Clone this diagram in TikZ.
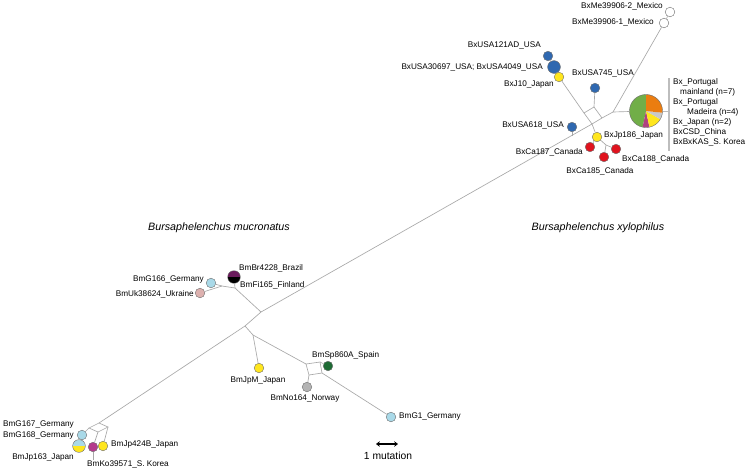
\documentclass[tikz,border=0pt]{standalone}
\usepackage{fontspec}
\setmainfont{Liberation Sans}
\usetikzlibrary{arrows.meta}
\definecolor{netgray}{HTML}{A8A8A8}
\definecolor{rimgray}{HTML}{6E6E6E}
\definecolor{barGray}{HTML}{BDBDBD}
\definecolor{lblueC}{HTML}{A9D9E8}
\definecolor{pinkC}{HTML}{DDB1AF}
\definecolor{purpC}{HTML}{6A1B5C}
\definecolor{blueC}{HTML}{2F68B0}
\definecolor{yellowC}{HTML}{FFE61E}
\definecolor{redC}{HTML}{E0131E}
\definecolor{dgreenC}{HTML}{1D6B34}
\definecolor{grayC}{HTML}{B4B4B4}
\definecolor{magC}{HTML}{B43A8C}
\definecolor{pieG}{HTML}{71AE48}
\definecolor{pieO}{HTML}{EB7D10}
\definecolor{pieGr}{HTML}{C9C9C9}
\definecolor{pieM}{HTML}{B0437F}
\begin{document}
\begin{tikzpicture}[x=1pt,y=-1pt,
  net/.style={draw=netgray, line width=0.65pt},
  nd/.style={circle, draw=rimgray, line width=0.4pt, inner sep=0pt, minimum size=9.6pt},
  bignd/.style={nd, minimum size=12.8pt},
  lbl/.style={font=\fontsize{8.2}{9}\selectfont, inner sep=0pt, text height=5.9pt, text depth=0pt},
  species/.style={font=\fontsize{10.7}{12}\selectfont\itshape, inner sep=0pt, text height=7.7pt, text depth=0pt}]
\fill[white] (0,0) rectangle (749,472);
\useasboundingbox (0,0) rectangle (749,472);

% ---------- circles (B. xylophilus) ----------
\node[nd, fill=white] (me2) at (670,12) {};
\node[nd, fill=white] (me1) at (664,23) {};
\node[nd, fill=blueC] (usa121) at (548,56) {};
\node[bignd, fill=blueC] (usa4049) at (554,67) {};
\node[nd, fill=yellowC] (j10) at (559,77) {};
\node[nd, fill=blueC] (usa745) at (595,88) {};
\node[nd, fill=blueC] (usa618) at (572,127) {};
\node[nd, fill=yellowC] (jp186) at (597,137) {};
\node[nd, fill=redC] (ca187) at (590,147) {};
\node[nd, fill=redC] (ca185) at (604,157) {};
\node[nd, fill=redC] (ca188) at (616,149) {};
\node[circle, inner sep=0pt, minimum size=33pt] (pie) at (646,111) {};
\fill[pieG] (pie.center) -- plot[domain=90:258, samples=40] ({646+16.5*cos(\x)},{111-16.5*sin(\x)}) -- cycle;
\fill[pieM] (pie.center) -- plot[domain=258:282, samples=8] ({646+16.5*cos(\x)},{111-16.5*sin(\x)}) -- cycle;
\fill[yellowC] (pie.center) -- plot[domain=282:330, samples=12] ({646+16.5*cos(\x)},{111-16.5*sin(\x)}) -- cycle;
\fill[pieGr] (pie.center) -- plot[domain=330:354, samples=8] ({646+16.5*cos(\x)},{111-16.5*sin(\x)}) -- cycle;
\fill[pieO] (pie.center) -- plot[domain=354:450, samples=24] ({646+16.5*cos(\x)},{111-16.5*sin(\x)}) -- cycle;
\draw[rimgray, line width=0.4pt] (pie.center) circle[radius=16.5pt];

% ---------- circles (B. mucronatus) ----------
\node[bignd, path picture={\fill[purpC] (path picture bounding box.north west) rectangle (path picture bounding box.east);
  \fill[black] (path picture bounding box.west) rectangle (path picture bounding box.south east);}] (brfi) at (234,277) {};
\node[nd, fill=lblueC] (g166) at (211,283) {};
\node[nd, fill=pinkC] (uk) at (200,293) {};
\node[nd, fill=yellowC] (jpm) at (259,368) {};
\node[nd, fill=dgreenC] (spn) at (328,366) {};
\node[nd, fill=grayC] (nor) at (307,387) {};
\node[nd, fill=lblueC] (g1) at (391,417) {};
\node[nd, fill=lblueC] (g167) at (82,435) {};
\node[bignd, path picture={\fill[lblueC] (path picture bounding box.north west) rectangle (path picture bounding box.east);
  \fill[yellowC] (path picture bounding box.west) rectangle (path picture bounding box.south east);}] (g168) at (79,446) {};
\node[nd, fill=magC] (ko) at (93,447) {};
\node[nd, fill=yellowC] (jp424) at (103,446) {};

% ---------- junctions ----------
\coordinate (T1) at (613,112);
\coordinate (Bb) at (592,124);
\coordinate (Rb) at (602,118);
\coordinate (Tb) at (594,107);
\coordinate (Lb) at (584,113);
\coordinate (S618) at (572,135.5);
\coordinate (K) at (606,145);
\coordinate (barmid) at (669,111);
\coordinate (bartop) at (669,78);
\coordinate (barbot) at (669,151);
\coordinate (J1) at (261,312);
\coordinate (J4) at (235,288);
\coordinate (J5) at (222,286);
\coordinate (J2) at (245,326);
\coordinate (J3) at (253,335);
\coordinate (A) at (306,364);
\coordinate (B) at (320,362);
\coordinate (C) at (309,375);
\coordinate (D) at (322,373);
\coordinate (N0) at (99,423);
\coordinate (Na) at (89,428);
\coordinate (Nb) at (108,427);
\coordinate (Nd) at (98,432);
\coordinate (koEnd) at (93,460);
\coordinate (sbL) at (376,444);
\coordinate (sbR) at (398,444);

% ---------- network edges ----------
\draw[net] (J1) -- (Bb) -- (Rb) -- (T1);
\draw[net] (Bb) -- (Lb) -- (Tb) -- (Rb);
\draw[net] (T1) -- (pie);
\draw[net] (T1) -- (me1);
\draw[net] (me1) -- (me2);
\draw[net] (usa745) -- (Tb);
\draw[net] (j10) -- (Lb);
\draw[net] (usa121) -- (usa4049);
\draw[net] (usa4049) -- (j10);
\draw[net] (usa618) -- (S618);
\draw[net] (jp186) -- (Bb);
\draw[net] (jp186) -- (ca187);
\draw[net] (jp186) -- (K);
\draw[net] (K) -- (ca188);
\draw[net] (K) -- (ca185);
\draw[barGray, line width=0.9pt] (pie) -- (barmid);
\draw[barGray, line width=1.3pt] (bartop) -- (barbot);

\draw[net] (J1) -- (J4);
\draw[net] (brfi) -- (J4);
\draw[net] (g166) -- (J5) -- (J4);
\draw[net] (uk) -- (J5);
\draw[net] (J1) -- (J2);
\draw[net] (J2) -- (J3);
\draw[net] (J3) -- (jpm);
\draw[net] (J3) -- (A);
\draw[net] (A) -- (B) -- (D) -- (C) -- (A);
\draw[net] (B) -- (spn);
\draw[net] (C) -- (nor);
\draw[net] (D) -- (g1);
\draw[net] (J2) -- (N0);
\draw[net] (N0) -- (Na) -- (Nd) -- (Nb) -- (N0);
\draw[net] (Na) -- (g167);
\draw[net] (g167) -- (g168);
\draw[net] (Nd) -- (ko);
\draw[net] (Nb) -- (jp424);
\draw[net] (ko) -- (koEnd);

% ---------- scale bar ----------
\draw[line width=1.7pt, {Stealth[length=3.8pt,width=5.5pt]}-{Stealth[length=3.8pt,width=5.5pt]}] (sbL) -- (sbR);
\node[font=\fontsize{10.3}{12}\selectfont, inner sep=0pt] (scl) at (388,456) {1 mutation};

% ---------- species labels ----------
\node[species] (bmuc) at (219,227) {Bursaphelenchus mucronatus};
\node[species] (bxyl) at (598,227) {Bursaphelenchus xylophilus};

% ---------- labels xylophilus ----------
\node[lbl, anchor=east] at (663,6) {BxMe39906-2\_Mexico};
\node[lbl, anchor=east] at (654,22) {BxMe39906-1\_Mexico};
\node[lbl, anchor=east] at (541,45) {BxUSA121AD\_USA};
\node[lbl, anchor=east] at (543,67) {BxUSA30697\_USA; BxUSA4049\_USA};
\node[lbl, anchor=east] at (554,84) {BxJ10\_Japan};
\node[lbl] at (603,73) {BxUSA745\_USA};
\node[lbl, anchor=east] at (564,125) {BxUSA618\_USA};
\node[lbl, anchor=west] at (604,135) {BxJp186\_Japan};
\node[lbl, anchor=east] at (583,152) {BxCa187\_Canada};
\node[lbl, anchor=west] at (622,159) {BxCa188\_Canada};
\node[lbl] at (600,171) {BxCa185\_Canada};
\node[lbl, anchor=west] at (673,82) {Bx\_Portugal};
\node[lbl, anchor=west] at (680,92) {mainland (n=7)};
\node[lbl, anchor=west] at (673,102) {Bx\_Portugal};
\node[lbl, anchor=west] at (687,112) {Madeira (n=4)};
\node[lbl, anchor=west] at (673,122) {Bx\_Japan (n=2)};
\node[lbl, anchor=west] at (673,132) {BxCSD\_China};
\node[lbl, anchor=west] at (673,142) {BxBxKAS\_S. Korea};

% ---------- labels mucronatus ----------
\node[lbl, anchor=east] at (204,279) {BmG166\_Germany};
\node[lbl, anchor=west] at (239,268) {BmBr4228\_Brazil};
\node[lbl, anchor=west] at (240,285) {BmFi165\_Finland};
\node[lbl, anchor=east] at (194,294) {BmUk38624\_Ukraine};
\node[lbl] at (258,380) {BmJpM\_Japan};
\node[lbl, anchor=west] at (312,355) {BmSp860A\_Spain};
\node[lbl] at (305,398) {BmNo164\_Norway};
\node[lbl, anchor=west] at (399,416) {BmG1\_Germany};
\node[lbl, anchor=east] at (74,424) {BmG167\_Germany};
\node[lbl, anchor=east] at (74,435) {BmG168\_Germany};
\node[lbl, anchor=east] at (74,457) {BmJp163\_Japan};
\node[lbl, anchor=west] at (111,444) {BmJp424B\_Japan};
\node[lbl, anchor=west] at (87,464) {BmKo39571\_S. Korea};
\end{tikzpicture}
\end{document}
